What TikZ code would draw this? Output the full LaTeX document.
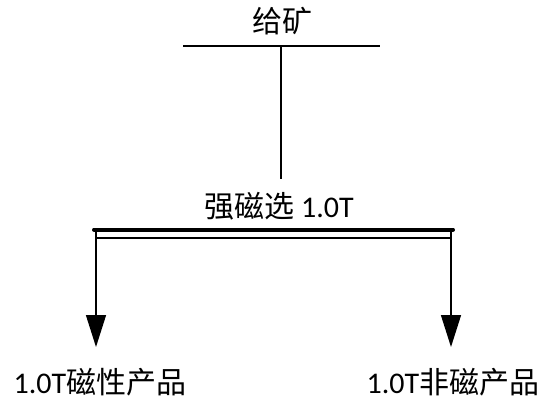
\documentclass[tikz,border=0pt]{standalone}
\usepackage{fontspec}
\setmainfont{Carlito}
\newfontfamily\cjk{Noto Sans CJK SC}
\usetikzlibrary{arrows.meta}
\begin{document}
\begin{tikzpicture}[x=1pt,y=-1pt,
  lbl/.style={inner sep=0pt,font=\fontsize{30}{34}\selectfont},
  thin/.style={line width=1.4pt},
  bar/.style={line width=4pt,line cap=round},
  flow/.style={thin,-{Triangle[length=32pt,width=20pt]}}]
\useasboundingbox (0,0) rectangle (542,400);
\node[lbl] (feed) at (282,21) {{\cjk 给矿}};
\coordinate (tl) at (183,46);
\coordinate (tr) at (380,46);
\coordinate (tm) at (281,46);
\coordinate (te) at (281,179);
\node[lbl] (sep) at (279,206) {{\cjk 强磁选} 1.0T};
\coordinate (bl) at (94,229.5);
\coordinate (br) at (453,229.5);
\coordinate (l0) at (96,229.5);
\coordinate (r0) at (451,229.5);
\coordinate (l1) at (96,238);
\coordinate (r1) at (451,238);
\coordinate (l2) at (96,347);
\coordinate (r2) at (451,347);
\node[lbl] (mag) at (100,382) {1.0T{\cjk 磁性产品}};
\node[lbl] (nonmag) at (453,382) {1.0T{\cjk 非磁产品}};
\draw[thin] (tl) -- (tr);
\draw[thin] (tm) -- (te);
\draw[bar] (bl) -- (br);
\draw[thin] (l1) -- (r1);
\draw[flow] (l0) -- (l2);
\draw[flow] (r0) -- (r2);
\end{tikzpicture}
\end{document}
